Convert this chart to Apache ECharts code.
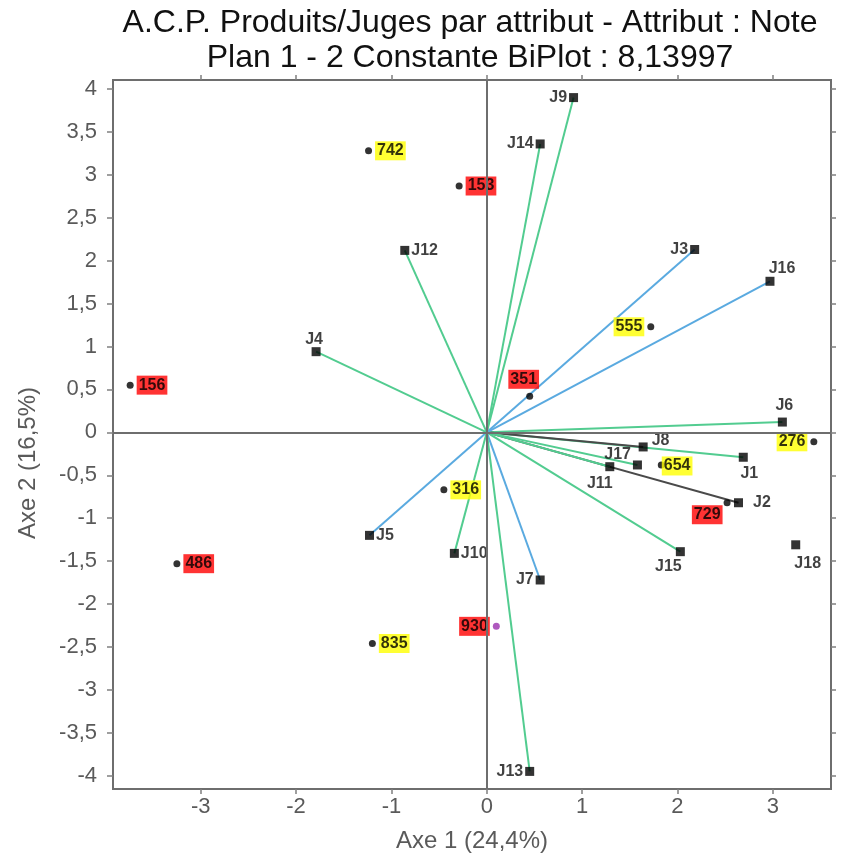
<!DOCTYPE html>
<html>
<head>
<meta charset="utf-8">
<script src="https://cdn.jsdelivr.net/npm/echarts@6/dist/echarts.min.js"></script>
<style>
  html, body {margin: 0; padding: 0; background: #fff;}
  #acp {width: 859px; height: 854px;}
</style>
</head>
<body>
<div id="acp"></div>
<script>
// juges (vecteurs) - coordonnees sur les axes 1 et 2
var judgeNames = ['J1', 'J2', 'J3', 'J4', 'J5', 'J6', 'J7', 'J8', 'J9', 'J10', 'J11', 'J12', 'J13', 'J14', 'J15', 'J16', 'J17', 'J18'];
var judgeX = [2.69, 2.64, 2.18, -1.79, -1.23, 3.10, 0.56, 1.64, 0.91, -0.34, 1.29, -0.86, 0.45, 0.56, 2.03, 2.97, 1.58, 3.24];
var judgeY = [-0.29, -0.82, 2.13, 0.94, -1.20, 0.12, -1.72, -0.17, 3.90, -1.41, -0.40, 2.12, -3.95, 3.36, -1.39, 1.76, -0.38, -1.31];
var judgeGroup = [1, 3, 2, 1, 2, 1, 2, 3, 1, 1, 1, 1, 1, 1, 1, 2, 1, 0];

// produits
var productNames = ['156', '153', '276', '316', '351', '486', '555', '654', '729', '742', '835', '930'];
var productX = [-3.74, -0.29, 3.43, -0.45, 0.45, -3.25, 1.72, 1.83, 2.52, -1.24, -1.20, 0.10];
var productY = [0.55, 2.87, -0.11, -0.67, 0.42, -1.53, 1.23, -0.38, -0.82, 3.28, -2.46, -2.26];
var productGroup = [2, 2, 1, 1, 2, 2, 1, 1, 2, 1, 1, 2];

// axes
var xRange = [-3.92, 3.61];
var yRange = [-4.155, 4.105];
var xTicks = [-3, -2, -1, 0, 1, 2, 3];
var yTicks = [-4, -3.5, -3, -2.5, -2, -1.5, -1, -0.5, 0, 0.5, 1, 1.5, 2, 2.5, 3, 3.5, 4];

var titre1 = 'A.C.P. Produits/Juges par attribut - Attribut : Note';
var titre2 = 'Plan 1 - 2 Constante BiPlot : 8,13997';
var axe1 = 'Axe 1 (24,4%)';
var axe2 = 'Axe 2 (16,5%)';

// styles
var FONT = 'Liberation Sans, Arial, sans-serif';
var vectColors = {1: '#52cc90', 2: '#5aaae0', 3: '#4a4a4a'};
var boxColors = {1: '#ffff00', 2: '#ff0000'};
var judgeLabelPos = {
    J1: ['bottom', [6, 2]], J2: ['right', [8, 0]], J3: ['left', [0, 0]], J4: ['top', [-2, 2]],
    J5: ['right', [0, 0]], J6: ['top', [2, -2]], J7: ['left', [0, 0]], J8: ['right', [2, -6]],
    J9: ['left', [0, 0]], J10: ['right', [0, 0]], J11: ['bottom', [-10, 2]], J12: ['right', [0, 0]],
    J13: ['left', [0, 0]], J14: ['left', [0, 0]], J15: ['bottom', [-12, 0]], J16: ['top', [12, 2]],
    J17: ['left', [0, -10]], J18: ['bottom', [12, 4]]
};
var productLabelPos = {
    '156': ['right', [0, 0]], '153': ['right', [0, 0]], '276': ['left', [0, 0]], '316': ['right', [0, 0]],
    '351': ['top', [-6, -1]], '486': ['right', [0, 0]], '555': ['left', [0, 0]], '654': ['right', [-6, 1]],
    '729': ['left', [2, 12]], '742': ['right', [0, 0]], '835': ['right', [0, 0]], '930': ['left', [0, 0]]
};

var vectData = [];
var judgeData = [];
judgeNames.forEach(function (n, i) {
    if (judgeGroup[i] > 0) {
        vectData.push({coords: [[0, 0], [judgeX[i], judgeY[i]]], lineStyle: {color: vectColors[judgeGroup[i]]}});
    }
    var lp = judgeLabelPos[n];
    judgeData.push({name: n, value: [judgeX[i], judgeY[i]], label: {position: lp[0], offset: lp[1]}});
});

var productData = productNames.map(function (n, i) {
    var lp = productLabelPos[n];
    return {
        name: n, value: [productX[i], productY[i]],
        itemStyle: {color: n === '930' ? '#9b2fae' : '#000'},
        label: {position: lp[0], offset: lp[1], backgroundColor: boxColors[productGroup[i]]}
    };
});

function fr(v) { return String(v).replace('.', ','); }

var chart = echarts.init(document.getElementById('acp'));

var tickStyle = {color: '#808080', width: 1.5};
var noLine = {show: false, onZero: false};

option = {
    backgroundColor: '#fff',
    animation: false,
    graphic: [
        {type: 'text', x: 470, y: 23, style: {text: titre1, font: '32px ' + FONT, fill: '#111', textAlign: 'center', textVerticalAlign: 'middle'}},
        {type: 'text', x: 470, y: 58, style: {text: titre2, font: '32px ' + FONT, fill: '#111', textAlign: 'center', textVerticalAlign: 'middle'}},
        {type: 'text', x: 28, y: 463, rotation: Math.PI / 2, style: {text: axe2, font: '24px ' + FONT, fill: '#5a5a5a', textAlign: 'center', textVerticalAlign: 'middle'}}
    ],
    grid: {left: 113, right: 28, top: 80, bottom: 65, show: true, borderColor: '#6e6e6e', borderWidth: 2,
           containLabel: false, outerBoundsMode: 'none'},
    xAxis: [
        {type: 'value', position: 'bottom', min: xRange[0], max: xRange[1],
         axisLine: noLine, splitLine: {show: false},
         axisTick: {show: true, customValues: xTicks, length: 5, lineStyle: tickStyle},
         axisLabel: {customValues: xTicks, formatter: fr, fontSize: 22, color: '#5a5a5a', fontFamily: FONT, margin: 7},
         name: axe1, nameLocation: 'middle', nameGap: 40, nameTextStyle: {fontSize: 24, color: '#5a5a5a', fontFamily: FONT}},
        {type: 'value', position: 'top', min: xRange[0], max: xRange[1],
         axisLine: noLine, splitLine: {show: false},
         axisTick: {show: true, customValues: xTicks, length: 5, lineStyle: tickStyle},
         axisLabel: {show: false}}
    ],
    yAxis: [
        {type: 'value', position: 'left', min: yRange[0], max: yRange[1],
         axisLine: noLine, splitLine: {show: false},
         axisTick: {show: true, customValues: yTicks, length: 6, lineStyle: tickStyle},
         axisLabel: {customValues: yTicks, formatter: fr, fontSize: 22, color: '#5a5a5a', fontFamily: FONT, margin: 16}},
        {type: 'value', position: 'right', min: yRange[0], max: yRange[1],
         axisLine: noLine, splitLine: {show: false},
         axisTick: {show: true, customValues: yTicks, length: 5, lineStyle: tickStyle},
         axisLabel: {show: false}}
    ],
    series: [
        {type: 'lines', coordinateSystem: 'cartesian2d', silent: true, z: 2,
         lineStyle: {width: 2, opacity: 1}, data: vectData,
         markLine: {silent: true, symbol: 'none', label: {show: false},
                    lineStyle: {color: '#6e6e6e', width: 2, type: 'solid'},
                    data: [{xAxis: 0}, {yAxis: 0}]}},
        {type: 'scatter', name: 'Juges', symbol: 'rect', symbolSize: 9, z: 3,
         itemStyle: {color: '#000'},
         label: {show: true, formatter: '{b}', color: '#111', fontSize: 16, fontWeight: 'bold', fontFamily: FONT, distance: 2},
         data: judgeData},
        {type: 'scatter', name: 'Produits', symbol: 'circle', symbolSize: 7, z: 4,
         label: {show: true, formatter: '{b}', color: '#000', fontSize: 16, fontWeight: 'bold', fontFamily: FONT, distance: 3, padding: [2, 2, 1, 2]},
         data: productData}
    ]
};

chart.setOption(option);
</script>
</body>
</html>
